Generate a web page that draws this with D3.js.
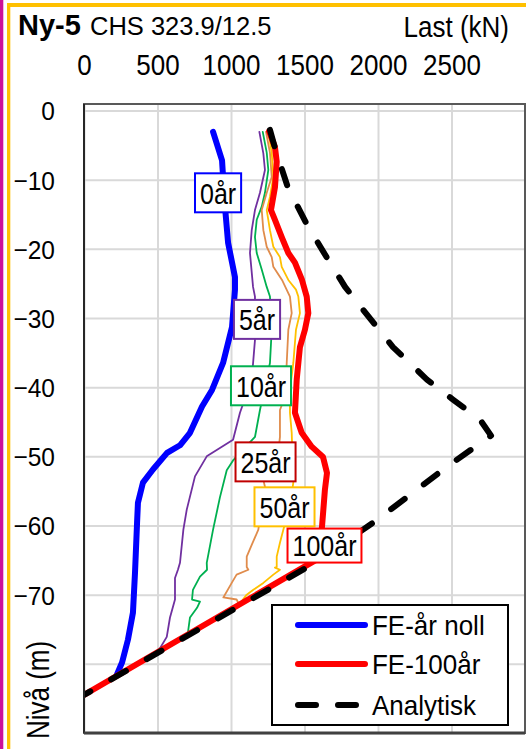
<!DOCTYPE html>
<html>
<head>
<meta charset="utf-8">
<script src="https://cdn.jsdelivr.net/npm/d3@7"></script>
<style>
  body { margin: 0; background: #fff; }
  svg { display: block; }
  text { font-family: "Liberation Sans", Arial, sans-serif; fill: #000; }
</style>
</head>
<body>
<svg id="chart" width="526" height="749"></svg>
<script>
// ---- axis ticks ----
const loadTicks = [0, 500, 1000, 1500, 2000, 2500];
const gridLoads = [0, 500, 1000, 1500, 2000, 2500, 3000];
const depthTicks = [0, -10, -20, -30, -40, -50, -60, -70];
const gridDepths = [0, -10, -20, -30, -40, -50, -60, -70, -80, -90];

// ---- series: [load kN, level m] ----
const fe0 = [[878,-3.1],[939,-7.2],[946,-9.6],[959,-13.9],[980,-19.1],[1027,-24.1],[1027,-25.9],
  [1007,-31.3],[946,-36.5],[871,-40.4],[803,-42.8],[721,-46.6],[653,-48.4],[565,-49.5],[469,-51.9],
  [401,-53.8],[367,-56.7],[361,-59.6],[347,-66.8],[333,-72.6],[299,-76.5],[259,-79.8],[225,-81.5]];

const fe5 = [[1193,-3.1],[1220,-6.2],[1231,-8.6],[1197,-11.9],[1163,-14.4],[1141,-17.3],[1129,-20.6],
  [1150,-25.5],[1163,-26.9],[1163,-33.2],[1141,-38.9],[1061,-43.7],[1014,-47.6],[835,-50.0],[755,-52.9],
  [699,-57.7],[676,-60.6],[653,-65.4],[639,-66.4],[619,-67.6],[619,-70.7],[585,-73.3],[563,-76.1],[510,-78.0]];

const fe10 = [[1216,-3.1],[1243,-6.1],[1254,-8.6],[1231,-11.9],[1209,-13.9],[1175,-15.8],[1163,-18.3],
  [1175,-20.6],[1209,-23.0],[1243,-25.5],[1265,-26.9],[1277,-31.7],[1265,-36.5],[1197,-43.3],[1163,-47.2],
  [1014,-50.6],[971,-52.0],[925,-55.9],[878,-60.6],[835,-65.4],[837,-66.4],[789,-67.4],[741,-69.3],
  [735,-70.7],[789,-71.0],[769,-71.9],[721,-73.3],[707,-75.5]];

const fe25 = [[1238,-3.1],[1265,-6.1],[1277,-9.6],[1243,-11.9],[1209,-14.4],[1220,-17.3],[1243,-19.7],
  [1277,-21.2],[1288,-22.6],[1347,-24.5],[1401,-26.9],[1413,-29.3],[1390,-31.7],[1379,-36.5],[1367,-41.4],
  [1333,-43.3],[1333,-47.2],[1320,-49.8],[1265,-52.0],[1220,-53.4],[1231,-54.4],[1211,-57.0],[1186,-60.6],
  [1141,-62.8],[1107,-64.5],[1107,-66.0],[1118,-66.4],[1038,-67.1],[1005,-68.3],[948,-70.4],[1038,-70.7],
  [1050,-71.2],[993,-72.2]];

const fe50 = [[1254,-3.1],[1277,-6.1],[1288,-9.6],[1265,-12.5],[1243,-14.4],[1265,-17.3],[1288,-19.7],
  [1333,-21.2],[1345,-22.6],[1390,-24.5],[1442,-25.9],[1458,-26.9],[1469,-29.3],[1442,-31.7],[1424,-36.5],
  [1401,-40.4],[1401,-43.7],[1413,-46.6],[1424,-53.8],[1401,-57.0],[1356,-60.6],[1333,-62.5],[1311,-64.5],
  [1311,-66.0],[1299,-66.1],[1333,-66.4],[1288,-67.1],[1220,-68.3],[1152,-69.3],[1107,-70.0],[1075,-70.9]];

const fe100 = [[1259,-3.0],[1299,-5.3],[1311,-7.4],[1299,-11.1],[1272,-14.4],[1299,-15.8],[1345,-18.3],
  [1390,-20.6],[1435,-22.0],[1483,-24.5],[1515,-26.9],[1526,-29.3],[1503,-31.7],[1469,-34.2],[1447,-38.9],
  [1435,-43.7],[1481,-46.6],[1549,-48.6],[1626,-50.1],[1653,-52.4],[1639,-54.8],[1619,-60.2],[1585,-64.9],
  [0,-84.5]];

const analytic = [[1265,-2.8],[1299,-5.4],[1388,-11.2],[1517,-16.5],[1653,-21.3],[1776,-25.5],[1898,-28.8],
  [2102,-34.2],[2333,-38.9],[2510,-41.8],[2694,-44.7],[2769,-47.0],[2469,-51.5],[1993,-59.2],[1571,-65.4],
  [0,-84.5]];

// ---- curve labels (text, anchor load, anchor level) ----
const curveLabels = [
  { text: "0år",   load: 912,  level: -11.9, color: "#0000FF" },
  { text: "5år",   load: 1177, level: -30.2, color: "#7030A0" },
  { text: "10år",  load: 1204, level: -39.8, color: "#00B050" },
  { text: "25år",  load: 1235, level: -50.8, color: "#C00000" },
  { text: "50år",  load: 1364, level: -57.3, color: "#FFC000" },
  { text: "100år", load: 1636, level: -62.9, color: "#FF0000" }
];

const legendItems = [
  { name: "FE-år noll", color: "#0000FF", dash: null },
  { name: "FE-100år",   color: "#FF0000", dash: null },
  { name: "Analytisk",  color: "#000000", dash: "18,22" }
];

// ---- layout ----
const svg = d3.select("#chart");
const plot = { left: 84, right: 525, top: 104, bottom: 733 };

const x = d3.scaleLinear().domain([0, 3000]).range([plot.left, plot.right]);
const y = d3.scaleLinear().domain([-90, 0.94]).range([plot.bottom, plot.top]);

// page frame stripes
svg.append("rect").attr("x", 0).attr("y", 0).attr("width", 3.3).attr("height", 749).attr("fill", "#CC1199");
svg.append("rect").attr("x", 7).attr("y", 3).attr("width", 3.3).attr("height", 746).attr("fill", "#FFC000");
svg.append("rect").attr("x", 7).attr("y", 3).attr("width", 519).attr("height", 4).attr("fill", "#FFC000");

// gridlines
const grid = svg.append("g").attr("class", "grid");
grid.append("g")
  .attr("transform", `translate(0,${plot.bottom})`)
  .call(d3.axisBottom(x).tickValues(gridLoads).tickSize(-(plot.bottom - plot.top)).tickFormat(""))
  .call(g => g.select(".domain").remove())
  .call(g => g.selectAll("line").attr("stroke", "#D9D9D9").attr("stroke-width", 2));
grid.append("g")
  .attr("transform", `translate(${plot.left},0)`)
  .call(d3.axisLeft(y).tickValues(gridDepths).tickSize(-(plot.right - plot.left)).tickFormat(""))
  .call(g => g.select(".domain").remove())
  .call(g => g.selectAll("line").attr("stroke", "#D9D9D9").attr("stroke-width", 2));

// clip
svg.append("clipPath").attr("id", "plotClip")
  .append("rect").attr("x", plot.left).attr("y", plot.top)
  .attr("width", plot.right - plot.left).attr("height", plot.bottom - plot.top);

const line = d3.line().x(d => x(d[0])).y(d => y(d[1]));
const series = svg.append("g").attr("clip-path", "url(#plotClip)");

const draw = (data, color, width, dash) => {
  const p = series.append("path").datum(data)
    .attr("d", line).attr("fill", "none")
    .attr("stroke", color).attr("stroke-width", width)
    .attr("stroke-linejoin", "round").attr("stroke-linecap", "round");
  if (dash) p.attr("stroke-dasharray", dash);
};

draw(fe5, "#7030A0", 1.8);
draw(fe10, "#00B050", 1.8);
draw(fe25, "#E08C4C", 1.8);
draw(fe50, "#FFC000", 1.8);
draw(fe0, "#0000FF", 6);
draw(fe100, "#FF0000", 6);
draw(analytic, "#000000", 6, "17,24");

// plot frame
svg.append("rect")
  .attr("x", plot.left).attr("y", plot.top)
  .attr("width", plot.right - plot.left).attr("height", plot.bottom - plot.top)
  .attr("fill", "none").attr("stroke", "#595959").attr("stroke-width", 2);
svg.append("line").attr("x1", plot.left).attr("x2", plot.left)
  .attr("y1", plot.top).attr("y2", plot.bottom).attr("stroke", "#262626").attr("stroke-width", 2);
svg.append("line").attr("x1", plot.left).attr("x2", plot.right)
  .attr("y1", plot.bottom).attr("y2", plot.bottom).attr("stroke", "#404040").attr("stroke-width", 3);

// top load axis labels
svg.append("g")
  .attr("transform", `translate(0,${plot.top})`)
  .call(d3.axisTop(x).tickValues(loadTicks).tickSize(0).tickFormat(d3.format("d")))
  .call(g => g.select(".domain").remove())
  .call(g => g.selectAll("text")
    .attr("y", 0).attr("dy", 0)
    .attr("transform", "translate(0,-29) scale(1,1.17)")
    .style("font-size", "26px").attr("fill", "#000"));

// left level axis labels
svg.append("g")
  .attr("transform", `translate(${plot.left},0)`)
  .call(d3.axisLeft(y).tickValues(depthTicks).tickSize(0).tickFormat(d3.format("d")))
  .call(g => g.select(".domain").remove())
  .call(g => g.selectAll("text")
    .attr("x", 0).attr("dy", "0.36em")
    .attr("transform", "translate(-29,0) scale(1,1.06)")
    .style("font-size", "24.5px").attr("fill", "#000"));

// titles
const title = svg.append("text").attr("transform", "translate(18,35)");
title.append("tspan").text("Ny-5").style("font-weight", "bold").style("font-size", "29px");
title.append("tspan").attr("x", 72).text("CHS 323.9/12.5").style("font-size", "25.5px");

svg.append("text").attr("transform", "translate(509,37) scale(1,1.17)")
  .attr("text-anchor", "end").style("font-size", "26px").text("Last (kN)");

svg.append("text").attr("transform", "translate(49,690) rotate(-90) scale(1,1.2)")
  .attr("text-anchor", "middle").style("font-size", "26px").text("Nivå (m)");

// curve labels
const lbl = svg.append("g").selectAll("g").data(curveLabels).join("g")
  .attr("transform", d => `translate(${x(d.load)},${y(d.level)})`);
lbl.each(function(d) {
  const g = d3.select(this);
  const rect = g.append("rect");
  const t = g.append("text").attr("text-anchor", "middle").attr("dy", "0.36em")
    .attr("transform", "scale(1,1.2)").style("font-size", "25px").text(d.text);
  const w = t.node().getComputedTextLength() + 10;
  const h = d.text === "100år" ? 34 : 39;
  rect.attr("x", -w / 2).attr("y", -h / 2).attr("width", w).attr("height", h)
    .attr("fill", "#fff").attr("stroke", d.color).attr("stroke-width", 2);
});

// legend
const leg = svg.append("g").attr("transform", "translate(272,605)");
leg.append("rect").attr("width", 236).attr("height", 120)
  .attr("fill", "#fff").attr("stroke", "#000").attr("stroke-width", 2);
const rows = leg.selectAll("g.row").data(legendItems).join("g")
  .attr("class", "row").attr("transform", (d, i) => `translate(0,${[20, 59, 100][i]})`);
rows.append("line").attr("x1", 26).attr("x2", 93)
  .attr("stroke", d => d.color).attr("stroke-width", 6).attr("stroke-linecap", "round")
  .attr("stroke-dasharray", d => d.dash);
rows.append("text").attr("x", 100).attr("dy", "0.36em")
  .attr("transform", "scale(1,1.04)").style("font-size", "26px").text(d => d.name);
</script>
</body>
</html>
